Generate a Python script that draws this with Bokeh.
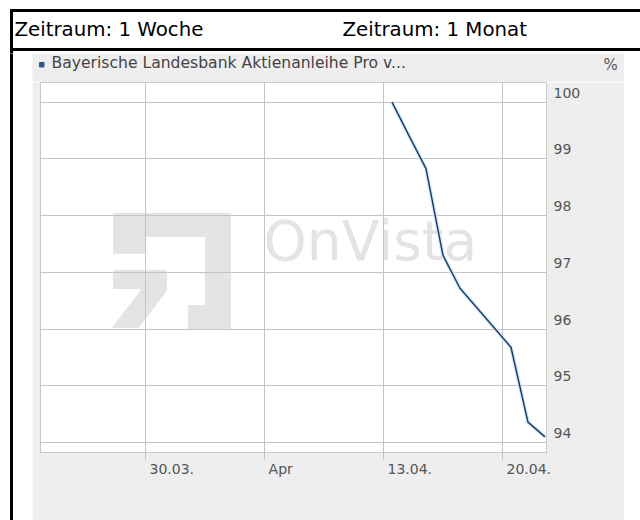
import pandas as pd
from bokeh.plotting import figure
from bokeh.layouts import column, row
from bokeh.models import Range1d, FixedTicker, CustomJSTickFormatter, DatetimeAxis
from bokeh.core.properties import value
from bokeh.embed import file_html
from bokeh.resources import INLINE

# ---------------- data ----------------
dates = ["2015-04-13 12:00", "2015-04-14 12:00", "2015-04-15 12:00",
         "2015-04-16 12:00", "2015-04-17 12:00", "2015-04-20 12:00",
         "2015-04-21 12:00", "2015-04-22 12:00"]
prices = [100.00, 99.41, 98.83, 97.30, 96.72, 95.68, 94.36, 94.10]

x_tick_dates = ["2015-03-30", "2015-04-06", "2015-04-13", "2015-04-20"]
x_tick_labels = ["30.03.", "Apr", "13.04.", "20.04."]
y_ticks = [94, 95, 96, 97, 98, 99, 100]

x_start, x_end = "2015-03-23 19:40", "2015-04-22 14:10"
y_start, y_end = 93.824, 100.347

series_name = "Bayerische Landesbank Aktienanleihe Pro v..."
unit_label = "%"
period_labels = ["Zeitraum: 1 Woche", "Zeitraum: 1 Monat"]
watermark = "OnVista"

FONT = "DejaVu Sans"
GRID = "#c4c4c4"
PANEL = "#eeeeee"
AXIS_TXT = "#555555"
TICK_PX = 14
BASELINE_FIX = 0.39   # em; compensates the renderer's baseline offset


def no_align(f):
    try:
        f.frame_align = False
    except AttributeError:
        pass
    return f


# ---------------- decoration strips (drawn in page-pixel coordinates) ----------------
def deco(width, height, x0, y0, bg):
    f = figure(width=width, height=height,
               x_range=Range1d(x0, x0 + width), y_range=Range1d(y0 + height, y0),
               x_axis_location=None, y_axis_location=None,
               toolbar_location=None, output_backend="svg",
               min_border=0, min_border_left=0, min_border_right=0,
               min_border_top=0, min_border_bottom=0)
    f.background_fill_color = bg
    f.border_fill_color = bg
    f.outline_line_color = None
    f.grid.visible = False
    return no_align(f)


def txt(f, xp, yp, s, size, color, **kw):
    f.text(x=[xp], y=[yp - BASELINE_FIX * size], text=[s], text_font=value(FONT),
           text_font_size=f"{size}px", text_color=color,
           text_baseline="alphabetic", text_align="left", **kw)


header = deco(640, 53, 0, 0, "white")
header.quad(left=[10, 10, 10], right=[640, 640, 12], top=[9, 48, 9], bottom=[11, 50, 53],
            color="black")
txt(header, 14, 37, period_labels[0], 19.8, "black")
txt(header, 342, 37, period_labels[1], 19.8, "black")

left = deco(32, 467, 0, 53, "white")
left.quad(left=[10], right=[12], top=[53], bottom=[520], color="black")

right = deco(16, 467, 624, 53, "white")

legend = deco(592, 29, 32, 53, PANEL)
legend.quad(left=[39], right=[43.5], top=[62], bottom=[66.5], color="#2b5a89")
txt(legend, 51, 69, series_name, 15.6, "#444444")
txt(legend, 603, 70, unit_label, 15, AXIS_TXT)

# ---------------- chart ----------------
x = pd.to_datetime(dates)
xr = Range1d(pd.Timestamp(x_start), pd.Timestamp(x_end))
yr = Range1d(y_start, y_end)
frame_w, frame_h = 506, 370

p = figure(width=592, height=438, x_axis_type="datetime", y_axis_location="right",
           x_range=xr, y_range=yr, output_backend="svg", toolbar_location=None,
           min_border_left=8, min_border_right=78, min_border_top=0, min_border_bottom=68)
no_align(p)
p.background_fill_color = "white"
p.border_fill_color = PANEL
p.outline_line_color = "#c8c8c8"

tick_ms = [int(pd.Timestamp(d).value // 10**6) for d in x_tick_dates]
ms_per_px = (pd.Timestamp(x_end) - pd.Timestamp(x_start)).total_seconds() * 1000 / frame_w
units_per_px = (y_end - y_start) / frame_h


def text_w(s):
    return TICK_PX * sum(0.636 if c.isdigit() else 0.318 if c == "." else 0.58 for c in s)


# labels sit to the right of their grid line (left edge 4px right of it)
label_ms = [int(t + (4 + text_w(s) / 2) * ms_per_px) for t, s in zip(tick_ms, x_tick_labels)]
# y labels sit just above their grid line
y_label_pos = [v + 9.5 * units_per_px for v in y_ticks]

# axis with tick marks only (continuation of the vertical grid)
xa = p.xaxis[0]
xa.ticker = FixedTicker(ticks=tick_ms)
xa.formatter = CustomJSTickFormatter(code="return '';")
xa.axis_line_color = None
xa.major_tick_in = 0
xa.major_tick_out = 8
xa.major_tick_line_color = GRID
xa.minor_tick_line_color = None
xa.major_label_standoff = 0
xa.major_label_text_font_size = "0px"

# axis with the date labels
xb = DatetimeAxis(ticker=FixedTicker(ticks=label_ms),
                  formatter=CustomJSTickFormatter(
                      args=dict(tvals=label_ms, tlabels=x_tick_labels),
                      code="const i = tvals.indexOf(tick); return i >= 0 ? tlabels[i] : '';"))
xb.axis_line_color = None
xb.major_tick_in = 0
xb.major_tick_out = 0
xb.major_tick_line_color = None
xb.minor_tick_line_color = None
xb.major_label_standoff = 0
xb.major_label_text_font = FONT
xb.major_label_text_font_size = f"{TICK_PX}px"
xb.major_label_text_color = AXIS_TXT
p.add_layout(xb, "below")

ya = p.yaxis[0]
ya.ticker = FixedTicker(ticks=y_label_pos)
ya.formatter = CustomJSTickFormatter(code="return String(Math.round(tick));")
ya.axis_line_color = None
ya.major_tick_in = 0
ya.major_tick_out = 0
ya.minor_tick_line_color = None
ya.major_label_standoff = 7
ya.major_label_text_font = FONT
ya.major_label_text_font_size = f"{TICK_PX}px"
ya.major_label_text_color = AXIS_TXT

p.xgrid.ticker = FixedTicker(ticks=tick_ms)
p.ygrid.ticker = FixedTicker(ticks=y_ticks)
p.xgrid.grid_line_color = GRID
p.ygrid.grid_line_color = GRID

# watermark (page-pixel coordinates inside the frame)
p.extra_x_ranges = {"px": Range1d(40, 546)}
p.extra_y_ranges = {"px": Range1d(452, 82)}
wm = "#e4e4e4"
p.quad(left=[113, 113, 205, 188], right=[230, 145, 230, 230],
       top=[213, 213, 213, 305], bottom=[236, 253, 328, 328],
       color=wm, x_range_name="px", y_range_name="px", level="image")
p.patch([113, 166, 166, 138, 112, 142, 113], [270, 270, 290, 327, 327, 288, 288],
        color=wm, x_range_name="px", y_range_name="px", level="image")
txt(p, 263, 262, watermark, 55, wm, x_range_name="px", y_range_name="px", level="image")

# data line with a faint halo
p.line(x, prices, line_color="#cfe6f7", line_width=4, line_alpha=0.8)
p.line(x, prices, line_color="#1c3f66", line_width=1.5)

layout = column(header, row(left, column(legend, p), right))
open("out.html", "w").write(file_html(layout, INLINE))
